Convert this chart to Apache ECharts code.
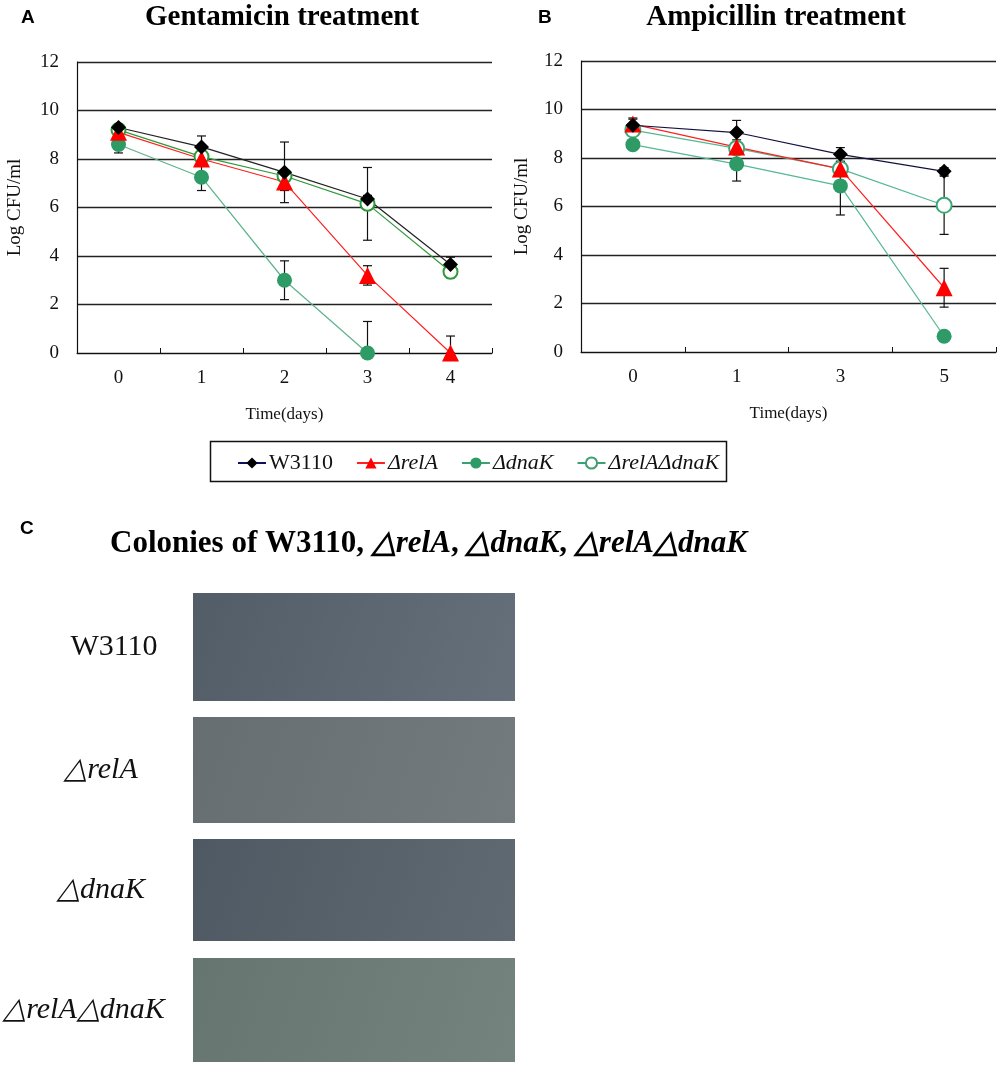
<!DOCTYPE html>
<html>
<head>
<meta charset="utf-8">
<script src="https://cdn.jsdelivr.net/npm/echarts@6/dist/echarts.min.js"></script>
<style>
html, body { margin: 0; padding: 0; background: #fff; }
#main { width: 1000px; height: 1066px; }
</style>
</head>
<body>
<div id="main"></div>
<script>
// panel A: gentamicin, panel B: ampicillin
var daysA = ['0', '1', '2', '3', '4'];
var daysB = ['0', '1', '3', '5'];
var yTicks = [0, 12, 2];

var w3110A = [9.3, 8.5, 7.45, 6.35, 3.65];
var w3110ErrA = [0.15, 0.45, 1.25, 0.15, 0.3];
var relAA = [9.1, 8.0, 7.05, 3.2, 0];
var relAErrA = [0.2, 0.3, 0.35, 0.4, 0.7];
var dnaKA = [8.6, 7.25, 3.0, 0, null];
var dnaKErrA = [0.35, 0.55, 0.8, 1.3, null];
var relAdnaKA = [9.2, 8.1, 7.3, 6.15, 3.35];
var relAdnaKErrA = [0.1, 0.2, 0.2, 1.5, 0.25];

var w3110B = [9.35, 9.05, 8.15, 7.45];
var w3110ErrB = [0.3, 0.5, 0.28, 0.15];
var relAB = [9.4, 8.45, 7.55, 2.65];
var relAErrB = [0.2, 0.3, 0.3, 0.8];
var dnaKB = [8.55, 7.75, 6.85, 0.65];
var dnaKErrB = [0.2, 0.7, 1.2, 0.1];
var relAdnaKB = [9.15, 8.4, 7.55, 6.05];
var relAdnaKErrB = [0.15, 0.2, 0.2, 1.2];

var strains = ['W3110', 'ΔrelA', 'ΔdnaK', 'ΔrelAΔdnaK'];
var plateLabels = ['W3110', '△relA', '△dnaK', '△relA△dnaK'];

var serif = '"Liberation Serif", "Times New Roman", serif';
var chart = echarts.init(document.getElementById('main'));

function errData(vals, errs) {
  var out = [];
  for (var i = 0; i < vals.length; i++) {
    if (vals[i] == null || errs[i] == null) continue;
    out.push([i, Math.max(0, vals[i] - errs[i]), vals[i] + errs[i]]);
  }
  return out;
}

function errSeries(idx, pairs) {
  var data = [];
  pairs.forEach(function (p) { data = data.concat(errData(p[0], p[1])); });
  return {
    type: 'custom', xAxisIndex: idx, yAxisIndex: idx, z: 1, silent: true,
    data: data,
    renderItem: function (params, api) {
      var top = api.coord([api.value(0), api.value(2)]);
      var bot = api.coord([api.value(0), api.value(1)]);
      var w = 4.5;
      var st = { stroke: '#111', lineWidth: 1.2 };
      return { type: 'group', children: [
        { type: 'line', shape: { x1: top[0], y1: top[1], x2: bot[0], y2: bot[1] }, style: st },
        { type: 'line', shape: { x1: top[0] - w, y1: top[1], x2: top[0] + w, y2: top[1] }, style: st },
        { type: 'line', shape: { x1: bot[0] - w, y1: bot[1], x2: bot[0] + w, y2: bot[1] }, style: st }
      ]};
    }
  };
}

function lineSeries(idx, name, data, lineColor, symbol, size, color) {
  return {
    type: 'line', name: name, xAxisIndex: idx, yAxisIndex: idx, data: data,
    symbol: symbol, symbolSize: size, z: 3,
    lineStyle: { color: lineColor, width: 1.2 },
    itemStyle: symbol === 'emptyCircle'
      ? { color: color, borderColor: color, borderWidth: 1.4 }
      : { color: color, borderWidth: 0 }
  };
}

function yAxis(idx, gap) {
  return {
    type: 'value', gridIndex: idx, min: yTicks[0], max: yTicks[1], interval: yTicks[2],
    name: 'Log CFU/ml', nameLocation: 'middle', nameGap: gap,
    nameTextStyle: { fontFamily: serif, fontSize: 19, color: '#111' },
    axisLine: { show: true, lineStyle: { color: '#111', width: 1.2 } },
    axisTick: { show: false },
    axisLabel: { fontFamily: serif, fontSize: 19, color: '#111', margin: 18 },
    splitLine: { lineStyle: { color: '#222', width: 1.3 } }
  };
}

function xAxis(idx, cats) {
  return {
    type: 'category', gridIndex: idx, data: cats, boundaryGap: true,
    name: 'Time(days)', nameLocation: 'middle', nameGap: 53,
    nameTextStyle: { fontFamily: serif, fontSize: 17, color: '#111' },
    axisLine: { lineStyle: { color: '#111', width: 1.2 } },
    axisTick: { show: true, inside: true, length: 5, lineStyle: { color: '#111' } },
    axisLabel: { fontFamily: serif, fontSize: 19, color: '#111', margin: 16 }
  };
}

// photo panels for part C (plain plates, label on the left)
var plateTops = [593, 717, 839, 958];
var plateHeights = [108, 106, 102, 104];
var plateColors = [['#525d67', '#65707a'], ['#666e72', '#737b7e'], ['#4f5963', '#5f6a72'], ['#66756f', '#75837f']];
var labelX = [114, 101, 101, 84];
var plates = [];
plateTops.forEach(function (t, i) {
  plates.push({
    type: 'rect', left: 193, top: t,
    shape: { width: 322, height: plateHeights[i] },
    style: { fill: new echarts.graphic.LinearGradient(0, 0, 1, 1, [
      { offset: 0, color: plateColors[i][0] }, { offset: 1, color: plateColors[i][1] }]) }
  });
  plates.push({
    type: 'text', x: labelX[i], y: t + plateHeights[i] / 2,
    style: {
      text: plateLabels[i], fontFamily: serif, fontSize: 30,
      fontStyle: i === 0 ? 'normal' : 'italic', fill: '#111',
      align: 'center', verticalAlign: 'middle'
    }
  });
});

var option = {
  animation: false,
  backgroundColor: '#fff',
  title: [
    { text: 'Gentamicin treatment', left: 277, top: -2, textAlign: 'center',
      textStyle: { fontFamily: serif, fontSize: 29, fontWeight: 'bold', color: '#000' } },
    { text: 'Ampicillin treatment', left: 771, top: -2, textAlign: 'center',
      textStyle: { fontFamily: serif, fontSize: 29, fontWeight: 'bold', color: '#000' } }
  ],
  grid: [
    { left: 77, right: 508, top: 62, bottom: 713 },
    { left: 581, right: 4, top: 61, bottom: 714 }
  ],
  xAxis: [xAxis(0, daysA), xAxis(1, daysB)],
  yAxis: [yAxis(0, 52), yAxis(1, 49)],
  legend: {
    left: 232, top: 447, itemGap: 23, itemWidth: 28, itemHeight: 14,
    selectedMode: false,
    data: [
      { name: strains[0], lineStyle: { color: '#101060' } },
      { name: strains[1] },
      { name: strains[2], lineStyle: { color: '#3d9f72' } },
      { name: strains[3], lineStyle: { color: '#3d9f72' }, itemStyle: { color: '#3d9f72' } }
    ],
    formatter: function (n) { return n === 'W3110' ? n : '{i|' + n + '}'; },
    textStyle: {
      fontFamily: serif, fontSize: 22, color: '#111', padding: [0, 0, 0, -2],
      rich: { i: { fontFamily: serif, fontSize: 22, fontStyle: 'italic', color: '#111' } }
    }
  },
  series: [
    errSeries(0, [[w3110A, w3110ErrA], [relAA, relAErrA], [dnaKA, dnaKErrA], [relAdnaKA, relAdnaKErrA]]),
    errSeries(1, [[w3110B, w3110ErrB], [relAB, relAErrB], [dnaKB, dnaKErrB], [relAdnaKB, relAdnaKErrB]]),
    lineSeries(0, strains[3], relAdnaKA, '#2f9a3a', 'emptyCircle', 14, '#2f9a3a'),
    lineSeries(0, strains[2], dnaKA, '#5db38a', 'circle', 15, '#2e9a66'),
    lineSeries(0, strains[1], relAA, '#ff2020', 'triangle', 17, '#ff0000'),
    lineSeries(0, strains[0], w3110A, '#222', 'diamond', 15, '#000'),
    lineSeries(1, strains[3], relAdnaKB, '#55b890', 'emptyCircle', 15, '#3aa878'),
    lineSeries(1, strains[2], dnaKB, '#55b890', 'circle', 15, '#2e9a66'),
    lineSeries(1, strains[1], relAB, '#ff2020', 'triangle', 17, '#ff0000'),
    lineSeries(1, strains[0], w3110B, '#121240', 'diamond', 15, '#000')
  ],
  graphic: [
    { type: 'text', left: 21, top: 8, style: { text: 'A', fontFamily: 'Arial, "Liberation Sans"', fontSize: 19, fontWeight: 'bold', fill: '#000' } },
    { type: 'text', left: 538, top: 8, style: { text: 'B', fontFamily: 'Arial, "Liberation Sans"', fontSize: 19, fontWeight: 'bold', fill: '#000' } },
    { type: 'text', left: 20, top: 519, style: { text: 'C', fontFamily: 'Arial, "Liberation Sans"', fontSize: 19, fontWeight: 'bold', fill: '#000' } },
    { type: 'rect', left: 208, top: 439, shape: { width: 516, height: 40 },
      style: { fill: 'none', stroke: '#111', lineWidth: 1.5 } },
    { type: 'text', left: 110, top: 528, style: {
        text: '{b|Colonies of W3110, }{bi|△relA}{b|, }{bi|△dnaK}{b|, }{bi|△relA△dnaK}',
        rich: {
          b: { fontFamily: serif, fontSize: 31, fontWeight: 'bold', fill: '#000' },
          bi: { fontFamily: serif, fontSize: 31, fontWeight: 'bold', fontStyle: 'italic', fill: '#000' }
        }
      } }
  ].concat(plates)
};
chart.setOption(option);
</script>
</body>
</html>
